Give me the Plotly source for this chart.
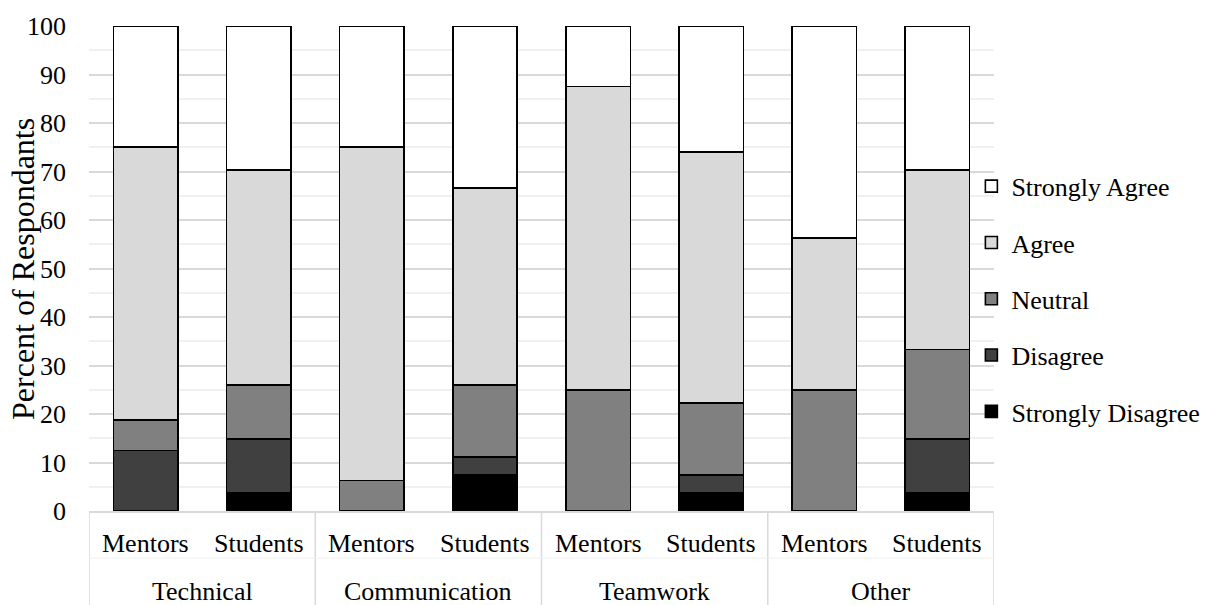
import plotly.graph_objects as go

# Survey groups and respondent roles
groups = ["Technical", "Communication", "Teamwork", "Other"]
roles = ["Mentors", "Students"]

# Percent of respondents per response level, one value per bar
# (bar order: Technical Mentors, Technical Students, Communication Mentors, ...)
strongly_disagree = [0, 3.70, 0, 7.41, 0, 3.70, 0, 3.70]
disagree = [12.5, 11.11, 0, 3.70, 0, 3.70, 0, 11.11]
neutral = [6.25, 11.11, 6.25, 14.81, 25.0, 14.81, 25.0, 18.52]
agree = [56.25, 44.44, 68.75, 40.74, 62.5, 51.85, 31.25, 37.04]
strongly_agree = [25.0, 29.63, 25.0, 33.33, 12.5, 25.93, 43.75, 29.63]

y_ticks = [0, 10, 20, 30, 40, 50, 60, 70, 80, 90, 100]

series = [
    ("Strongly Disagree", strongly_disagree, "#000000"),
    ("Disagree", disagree, "#404040"),
    ("Neutral", neutral, "#808080"),
    ("Agree", agree, "#d9d9d9"),
    ("Strongly Agree", strongly_agree, "#ffffff"),
]

FONT = "Liberation Serif"
x_keys = [f"{g}|{r}" for g in groups for r in roles]

fig = go.Figure()
for i, (name, vals, color) in enumerate(series):
    fig.add_trace(go.Bar(
        x=x_keys, y=vals, name=name, legendgroup=name,
        legendrank=len(series) - i,
        marker=dict(color=color, line=dict(color="#000000", width=1.6)),
    ))

# Two-level category labels under the axis
annotations = []
for gi, g in enumerate(groups):
    for ri, r in enumerate(roles):
        annotations.append(dict(
            x=f"{g}|{r}", xref="x", y=-0.068, yref="paper", text=r,
            showarrow=False, xanchor="center", yanchor="middle",
            font=dict(family=FONT, size=26, color="#000000"),
        ))
    annotations.append(dict(
        x=gi * 2 + 0.5, xref="x", y=-0.165, yref="paper", text=g,
        showarrow=False, xanchor="center", yanchor="middle",
        font=dict(family=FONT, size=26, color="#000000"),
    ))

annotations.append(dict(
    x=-0.0735, xref="paper", y=0.5, yref="paper", text="Percent of Respondants",
    textangle=-90, showarrow=False, xanchor="center", yanchor="middle",
    font=dict(family=FONT, size=32, color="#000000"),
))

# Group separators and the row divider below the axis
shapes = []
for k in range(len(groups) + 1):
    shapes.append(dict(
        type="line", xref="x", yref="paper", x0=k * 2 - 0.5, x1=k * 2 - 0.5,
        y0=0, y1=-0.2, line=dict(color="#d9d9d9", width=1.5),
    ))
shapes.append(dict(
    type="line", xref="x", yref="paper", x0=-0.5, x1=7.5,
    y0=-0.097, y1=-0.097, line=dict(color="#efefef", width=1),
))

fig.update_layout(
    width=1217, height=605,
    margin=dict(l=89, r=219, t=22, b=94),
    paper_bgcolor="#ffffff", plot_bgcolor="#ffffff",
    barmode="stack", bargap=0.43,
    font=dict(family=FONT, size=26, color="#000000"),
    showlegend=True,
    legend=dict(
        x=0.975, xanchor="left", y=0.4376, yanchor="middle",
        traceorder="grouped", tracegroupgap=19.5,
        font=dict(family=FONT, size=26, color="#000000"),
        bgcolor="rgba(0,0,0,0)",
    ),
    xaxis=dict(
        type="category", range=[-0.5, 7.5], showticklabels=False,
        showgrid=False, showline=True, linecolor="#d9d9d9", linewidth=1.5,
        zeroline=False,
    ),
    yaxis=dict(
        range=[0, 100], tickvals=y_ticks, showgrid=True, gridcolor="#d9d9d9",
        gridwidth=1.5, zeroline=False, showline=False,
        ticklabelstandoff=22,
        tickfont=dict(family=FONT, size=26, color="#000000"),
        minor=dict(dtick=5, showgrid=True, gridcolor="#f0f0f0", gridwidth=1.5),
    ),
    annotations=annotations,
    shapes=shapes,
)

fig.write_html("out.html")
